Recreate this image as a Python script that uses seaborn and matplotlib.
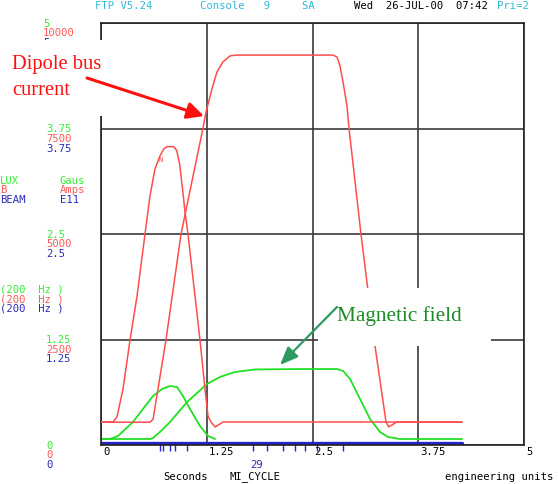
import matplotlib
matplotlib.use("Agg")
import matplotlib.pyplot as plt
from matplotlib.patches import Rectangle, FancyArrowPatch
import seaborn as sns

W, H = 558, 485

# ---------------- data ----------------
# Dipole bus current (red, Amps)
dipole_t = [0.0, 0.58, 0.615, 0.674, 0.768, 0.946, 1.206, 1.241, 1.312, 1.371,
            1.442, 1.525, 1.596, 2.742, 2.79, 2.825, 2.861, 2.908, 2.931, 3.073,
            3.227, 3.369, 3.40, 3.44, 3.49, 4.267]
dipole_amps = [540, 540, 610, 1330, 2490, 5000, 7510, 7890, 8440, 8840,
               9080, 9220, 9240, 9240, 9195, 8980, 8600, 8030, 7510, 5000,
               2510, 545, 430, 475, 540, 540]

# Injection pulse (red, Amps, marked "N")
pulse_t = [0.0, 0.142, 0.189, 0.260, 0.343, 0.426, 0.520, 0.579, 0.638, 0.697,
           0.740, 0.780, 0.860, 0.895, 0.930, 0.965, 0.993, 1.028, 1.170, 1.229,
           1.265, 1.300, 1.348, 1.407, 1.442, 4.267]
pulse_amps = [545, 545, 664, 1327, 2488, 3531, 5000, 5900, 6540, 6850,
              7010, 7070, 7070, 6980, 6650, 6050, 5520, 5000, 2488, 1327,
              687, 545, 427, 498, 545, 545]

# Magnetic field (green, Gauss)
field_t = [0.0, 0.579, 0.615, 0.697, 0.816, 1.017, 1.253, 1.407, 1.584, 1.820,
           2.352, 2.79, 2.861, 2.944, 3.062, 3.180, 3.298, 3.392, 3.534, 4.267]
field_gauss = [0.071, 0.071, 0.083, 0.154, 0.272, 0.509, 0.723, 0.806, 0.865, 0.895,
               0.900, 0.900, 0.877, 0.782, 0.545, 0.308, 0.154, 0.095, 0.071, 0.071]

# First green bump (LUX, Gauss)
bump_t = [0.0, 0.106, 0.201, 0.378, 0.496, 0.615, 0.721, 0.816, 0.898, 0.969,
          1.052, 1.170, 1.265, 1.348]
bump_gauss = [0.071, 0.071, 0.107, 0.272, 0.427, 0.581, 0.663, 0.699, 0.687, 0.581,
              0.427, 0.225, 0.107, 0.071]

# Beam (blue, E11) baseline and spikes
beam_t = [0.0, 4.27]
beam_e11 = [0.022, 0.022]
beam_spike_t = [0.70, 0.73, 0.82, 0.87, 1.02, 1.80, 1.96, 2.15, 2.29, 2.41, 2.55, 2.86]

x_ticks = [0, 1.25, 2.5, 3.75, 5]
x_tick_labels = ["0", "1.25", "2.5", "3.75", "5"]
lux_tick_labels = ["0", "1.25", "2.5", "3.75", "5"]
amp_tick_labels = ["0", "2500", "5000", "7500", "10000"]
beam_tick_labels = ["0", "1.25", "2.5", "3.75", "5"]

# ---------------- styling ----------------
GREEN = "#22e022"
RED = "#ff4d4d"
BLUE = "#2424c8"
LGREEN = "#33ee33"
LRED = "#ff5a5a"
LBLUE = "#2a2ab8"
CYAN = "#30b8d8"
MONO = "DejaVu Sans Mono"
SERIF = "Liberation Serif"
FS = 7.6

sns.set_style("white")
fig = plt.figure(figsize=(W / 100, H / 100), dpi=100)


def fx(px):
    return px / W


def fy(py):
    return 1 - py / H


def ftext(px, py, s, color="black", ha="left", va="center", size=FS, family=MONO, z=1):
    fig.text(fx(px), fy(py), s, color=color, ha=ha, va=va, fontsize=size,
             family=family, zorder=z)


ax = fig.add_axes([fx(101), fy(446), 423 / W, 422 / H])
ax2 = ax.twinx()

# curves
sns.lineplot(x=bump_t, y=bump_gauss, ax=ax, color=GREEN, linewidth=1.3,
             estimator=None, sort=False, legend=False)
sns.lineplot(x=field_t, y=field_gauss, ax=ax, color=GREEN, linewidth=1.3,
             estimator=None, sort=False, legend=False)
sns.lineplot(x=beam_t, y=beam_e11, ax=ax, color=BLUE, linewidth=2.4,
             estimator=None, sort=False, legend=False)
ax.vlines(beam_spike_t, -0.07, 0.03, color=BLUE, linewidth=1.0, clip_on=False)
sns.lineplot(x=pulse_t, y=pulse_amps, ax=ax2, color=RED, linewidth=1.1,
             estimator=None, sort=False, legend=False)
sns.lineplot(x=dipole_t, y=dipole_amps, ax=ax2, color=RED, linewidth=1.1,
             estimator=None, sort=False, legend=False)

ax.set_xlim(0, 5)
ax.set_ylim(0, 5)
ax2.set_ylim(0, 10000)
ax.set_xticks(x_ticks)
ax.set_yticks([0, 1.25, 2.5, 3.75, 5])
ax.grid(True, color="#3a3a3a", linewidth=1.2)
ax.tick_params(length=0, labelbottom=False, labelleft=False)
ax2.tick_params(length=0, labelright=False)
ax2.set_yticks([])
for a in (ax, ax2):
    a.set_xlabel("")
    a.set_ylabel("")
for s in ax.spines.values():
    s.set_color("#222222")
    s.set_linewidth(1.2)
for s in ax2.spines.values():
    s.set_visible(False)

# small "N" marker on the pulse
ax2.text(0.70, 6780, "N", color=RED, fontsize=5, family=MONO, ha="center", va="center")

# ---------------- scope text ----------------
# header
ftext(95, 6, "FTP V5.24", CYAN)
ftext(200, 6, "Console   9     SA", CYAN)
ftext(354, 6, "Wed  26-JUL-00  07:42", "black")
ftext(497, 6, "Pri=2", CYAN)

# y tick label stacks
for i in range(5):
    yg = 446 - i * 105.5
    xl = 43 if i == 4 else 46
    ftext(xl, yg, lux_tick_labels[i], LGREEN)
    ftext(xl, yg + 9.5, amp_tick_labels[i], LRED)
    ftext(xl, yg + 19, beam_tick_labels[i], LBLUE)

ftext(0, 181, "LUX", LGREEN)
ftext(0, 190.5, "B", LRED)
ftext(0, 200, "BEAM", LBLUE)
ftext(60, 181, "Gaus", LGREEN)
ftext(60, 190.5, "Amps", LRED)
ftext(60, 200, "E11", LBLUE)
ftext(0, 289, "(200  Hz )", LGREEN)
ftext(0, 299, "(200  Hz )", LRED)
ftext(0, 309, "(200  Hz )", LBLUE)

# x tick labels
for xv, lab in zip(x_ticks, x_tick_labels):
    px = 101 + xv / 5 * 423
    ftext(px + 2, 452, lab, "black")

ftext(257, 465, "29", LBLUE, ha="center")
ftext(163, 477, "Seconds", "black")
ftext(230, 477, "MI_CYCLE", "black")
ftext(445, 477, "engineering units", "black")

# ---------------- annotations ----------------
fig.add_artist(Rectangle((fx(0), fy(117)), 104 / W, (117 - 41) / H,
                         transform=fig.transFigure, facecolor="white",
                         edgecolor="none", zorder=2))
fig.add_artist(Rectangle((fx(318), fy(347)), (491 - 318) / W, (347 - 289) / H,
                         transform=fig.transFigure, facecolor="white",
                         edgecolor="none", zorder=2))

fig.text(fx(12), fy(69.5), "Dipole bus", color="#ff1010", fontsize=14.8,
         family=SERIF, ha="left", va="baseline", zorder=3)
fig.text(fx(12), fy(95), "current", color="#ff1010", fontsize=14.8,
         family=SERIF, ha="left", va="baseline", zorder=3)
fig.text(fx(337), fy(321.5), "Magnetic field", color="#1e8c28", fontsize=15.3,
         family=SERIF, ha="left", va="baseline", zorder=3)

fig.add_artist(FancyArrowPatch((fx(87), fy(79)), (fx(204), fy(117)),
                               transform=fig.transFigure,
                               arrowstyle="-|>,head_length=1.0,head_width=0.5",
                               mutation_scale=10, color="#ff1010", linewidth=2.2,
                               shrinkA=0, shrinkB=0, zorder=4))
fig.add_artist(FancyArrowPatch((fx(337), fy(308)), (fx(280), fy(366)),
                               transform=fig.transFigure,
                               arrowstyle="-|>,head_length=1.1,head_width=0.45",
                               mutation_scale=10, color="#2e9a62", linewidth=1.6,
                               shrinkA=0, shrinkB=0, zorder=4))

fig.savefig("out.png", dpi=100)
